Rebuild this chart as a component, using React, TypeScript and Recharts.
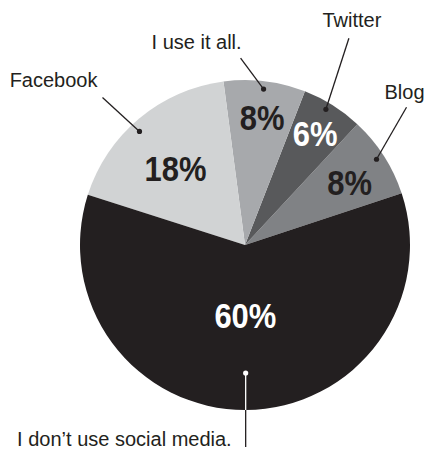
import React from "react";
import { PieChart, Pie, Cell } from "recharts";

// slices in drawing order (counter-clockwise from the right)
const categories = ["Blog", "Twitter", "I use it all.", "Facebook", "I don\u2019t use social media."];
const shares = [8, 6, 8, 18, 60];
const fills = ["#808285", "#58595b", "#a7a9ac", "#d1d3d4", "#231f20"];
const pctColors = ["#231f20", "#ffffff", "#231f20", "#231f20", "#ffffff"];

const data = categories.map((name, i) => ({ name, value: shares[i] }));

// label layout: where the % sits, where the callout dot sits, where the line ends, where the name goes
const pctPos = [
  { r: 122, da: -1.7 },
  { r: 132, da: 0 },
  { r: 129, da: -0.7 },
  { r: 104, da: 2 },
  { r: 70, da: 0 },
];
const callouts = [
  { r: 157, da: 0.4, ex: 30, ey: -52, tx: -2, ty: -15, anchor: "middle" },
  { r: 158, da: 1.3, ex: 23, ey: -71, tx: 3, ty: -18, anchor: "middle" },
  { r: 157, da: 0.1, ex: -23, ey: -31, tx: 1, ty: -16, anchor: "end" },
  { r: 155, da: 3, ex: -37, ey: -34, tx: -5, ty: -17, anchor: "end" },
  { r: 128, da: 0, ex: 0, ey: 74, tx: -14, ty: -8, anchor: "end" },
];

const RADIAN = Math.PI / 180;
const INK = "#231f20";

const renderLabel = (props: any) => {
  const { cx, cy, midAngle, outerRadius, index, value, name } = props;
  const p = pctPos[index];
  const a1 = (midAngle + p.da) * RADIAN;
  const px = cx + p.r * Math.cos(a1);
  const py = cy - p.r * Math.sin(a1);

  const c = callouts[index];
  const a2 = (midAngle + c.da) * RADIAN;
  const dx = cx + c.r * Math.cos(a2);
  const dy = cy - c.r * Math.sin(a2);
  const ex = dx + c.ex;
  const ey = dy + c.ey;
  const inside = index === 4;
  // where the vertical line leaves the pie (only for the big dark slice)
  const edgeY = cy + Math.sqrt(Math.max(0, outerRadius * outerRadius - (dx - cx) * (dx - cx)));

  return (
    <g>
      {/* condensed bold look: squeeze a bold sans horizontally */}
      <text
        x={0}
        y={0}
        transform={`translate(${px} ${py + 13}) scale(0.86 1)`}
        textAnchor="middle"
        fill={pctColors[index]}
        fontFamily="'Liberation Sans', Arial, sans-serif"
        fontWeight="bold"
        fontSize={36}
      >
        {value}%
      </text>
      {inside ? (
        <>
          <line x1={dx} y1={dy} x2={dx} y2={edgeY} stroke="#ffffff" strokeWidth={1.3} />
          <line x1={dx} y1={edgeY} x2={ex} y2={ey} stroke={INK} strokeWidth={1.3} />
          <circle cx={dx} cy={dy} r={2.6} fill="#ffffff" />
        </>
      ) : (
        <>
          <line x1={dx} y1={dy} x2={ex} y2={ey} stroke={INK} strokeWidth={1.3} />
          <circle cx={dx} cy={dy} r={2.6} fill={INK} />
        </>
      )}
      <text
        x={ex + c.tx}
        y={ey + c.ty + 7}
        textAnchor={c.anchor as any}
        fill={INK}
        fontFamily="'Liberation Sans', Arial, sans-serif"
        fontSize={20}
      >
        {name}
      </text>
    </g>
  );
};

export default function App() {
  return (
    <div style={{ position: "absolute", left: 0, top: 0, width: 433, height: 451, background: "#ffffff" }}>
      <PieChart width={433} height={451} margin={{ top: 0, right: 0, bottom: 0, left: 0 }}>
        <Pie
          data={data}
          dataKey="value"
          nameKey="name"
          cx={245}
          cy={245}
          outerRadius={165}
          startAngle={18.3}
          endAngle={378.3}
          stroke="none"
          label={renderLabel}
          labelLine={false}
          isAnimationActive={false}
        >
          {data.map((d, i) => (
            <Cell key={d.name} fill={fills[i]} />
          ))}
        </Pie>
      </PieChart>
    </div>
  );
}
